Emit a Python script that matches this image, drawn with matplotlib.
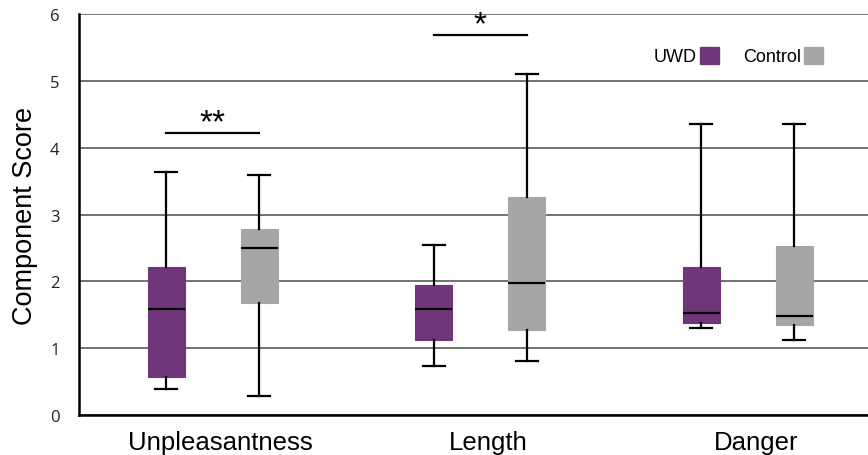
import matplotlib.pyplot as plt
import numpy as np
from matplotlib.patches import Patch

categories = ['Unpleasantness', 'Length', 'Danger']
groups = ['UWD', 'Control']

# per category: low whisker, Q1, median, Q3, high whisker
uwd_low = [0.38, 0.73, 1.30]
uwd_q1 = [0.57, 1.12, 1.37]
uwd_med = [1.59, 1.59, 1.52]
uwd_q3 = [2.22, 1.95, 2.22]
uwd_high = [3.64, 2.55, 4.36]

ctl_low = [0.28, 0.80, 1.12]
ctl_q1 = [1.67, 1.27, 1.34]
ctl_med = [2.50, 1.97, 1.48]
ctl_q3 = [2.78, 3.26, 2.53]
ctl_high = [3.59, 5.10, 4.36]

# significance brackets: category index, height, label
sig_cat = [0, 1]
sig_y = [4.23, 5.69]
sig_label = ['**', '*']

purple = '#70367a'
grey = '#a6a6a6'

plt.rcParams['font.family'] = ['Liberation Sans', 'DejaVu Sans']

fig = plt.figure(figsize=(8.68, 4.56), dpi=100)
ax = fig.add_axes([0.091, 0.0882, 0.909, 0.878])

x = np.arange(len(categories))
off = 0.174
w = 0.138


def make_stats(low, q1, med, q3, high):
    out = []
    for i in range(len(low)):
        out.append({'whislo': low[i], 'q1': q1[i], 'med': med[i],
                    'q3': q3[i], 'whishi': high[i], 'fliers': []})
    return out


for stats, pos, col in [
        (make_stats(uwd_low, uwd_q1, uwd_med, uwd_q3, uwd_high), x - off, purple),
        (make_stats(ctl_low, ctl_q1, ctl_med, ctl_q3, ctl_high), x + off, grey)]:
    ax.bxp(stats, positions=pos, widths=w, capwidths=0.082,
           patch_artist=True, showfliers=False,
           boxprops=dict(facecolor=col, edgecolor=col, linewidth=0.8),
           medianprops=dict(color='black', linewidth=1.6),
           whiskerprops=dict(color='black', linewidth=1.6),
           capprops=dict(color='black', linewidth=1.6),
           zorder=3)

# significance
for c, y, lab in zip(sig_cat, sig_y, sig_label):
    ax.plot([x[c] - off, x[c] + off], [y, y], color='black', lw=1.6, zorder=4)
    ax.text(x[c], y - 0.08, lab, ha='center', va='bottom', fontsize=24)

ax.set_xlim(-0.5, 2.45)
ax.set_ylim(0, 6)
ax.set_yticks(range(0, 7))
ax.yaxis.grid(True, color='#5a5a5a', linewidth=1.2)
ax.set_axisbelow(True)

ax.set_xticks(x + 0.03)
ax.set_xticklabels(categories, fontsize=18.5)
ax.tick_params(axis='x', length=0, pad=11)
ax.tick_params(axis='y', length=0, pad=14, labelsize=12)
for t in ax.get_yticklabels():
    t.set_fontfamily(['Open Sans', 'DejaVu Sans'])
    t.set_color('#222222')

ax.set_ylabel('Component Score', fontsize=19.5)
ax.yaxis.set_label_coords(-0.052, 0.5)

for s in ['top', 'right']:
    ax.spines[s].set_visible(False)
ax.spines['left'].set_linewidth(1.8)
ax.spines['bottom'].set_linewidth(1.8)

handles = [Patch(facecolor=purple, edgecolor=purple), Patch(facecolor=grey, edgecolor=grey)]
ax.legend(handles, groups, loc='center', bbox_to_anchor=(0.836, 0.896),
          ncol=2, frameon=False, markerfirst=False, fontsize=13,
          handlelength=1.1, handleheight=1.1, handletextpad=0.15,
          columnspacing=1.3, borderpad=0)

fig.savefig('out.png', dpi=100)
